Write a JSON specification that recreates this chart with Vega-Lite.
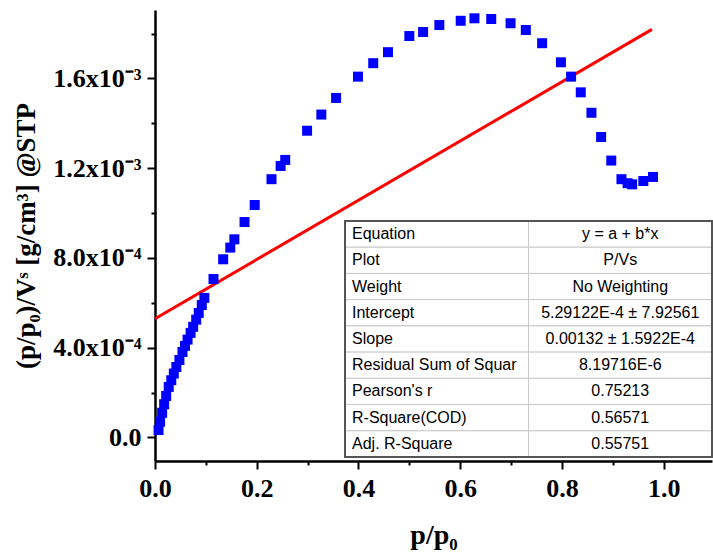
{
  "$schema": "https://vega.github.io/schema/vega-lite/v6.json",
  "width": 557,
  "height": 451,
  "autosize": "none",
  "padding": {"left": 155, "top": 10, "right": 1, "bottom": 94},
  "background": "white",
  "config": {"view": {"stroke": null}, "axis": {"grid": false}},
  "datasets": {
    "points": [
      {"x": 0.007, "y": 0.000033}, {"x": 0.010, "y": 0.000070}, {"x": 0.014, "y": 0.000110},
      {"x": 0.018, "y": 0.000148}, {"x": 0.022, "y": 0.000185}, {"x": 0.027, "y": 0.000225},
      {"x": 0.032, "y": 0.000255}, {"x": 0.037, "y": 0.000285}, {"x": 0.042, "y": 0.000314},
      {"x": 0.048, "y": 0.000345}, {"x": 0.054, "y": 0.000381}, {"x": 0.059, "y": 0.000408},
      {"x": 0.064, "y": 0.000436}, {"x": 0.070, "y": 0.000466}, {"x": 0.075, "y": 0.000493},
      {"x": 0.081, "y": 0.000525}, {"x": 0.086, "y": 0.000555}, {"x": 0.092, "y": 0.000590},
      {"x": 0.097, "y": 0.000622}, {"x": 0.115, "y": 0.000706},
      {"x": 0.134, "y": 0.000794}, {"x": 0.148, "y": 0.000846}, {"x": 0.156, "y": 0.000883},
      {"x": 0.176, "y": 0.000960}, {"x": 0.196, "y": 0.001036}, {"x": 0.229, "y": 0.001151},
      {"x": 0.247, "y": 0.001210}, {"x": 0.256, "y": 0.001237}, {"x": 0.299, "y": 0.001367},
      {"x": 0.327, "y": 0.001439}, {"x": 0.356, "y": 0.001513}, {"x": 0.399, "y": 0.001608},
      {"x": 0.429, "y": 0.001668}, {"x": 0.458, "y": 0.001717}, {"x": 0.500, "y": 0.001789},
      {"x": 0.527, "y": 0.001807}, {"x": 0.559, "y": 0.001838}, {"x": 0.601, "y": 0.001857},
      {"x": 0.628, "y": 0.001868}, {"x": 0.661, "y": 0.001865}, {"x": 0.699, "y": 0.001846},
      {"x": 0.729, "y": 0.001816}, {"x": 0.761, "y": 0.001757}, {"x": 0.798, "y": 0.001672},
      {"x": 0.818, "y": 0.001608}, {"x": 0.837, "y": 0.001538}, {"x": 0.858, "y": 0.001447},
      {"x": 0.877, "y": 0.001339}, {"x": 0.897, "y": 0.001234}, {"x": 0.917, "y": 0.001151},
      {"x": 0.929, "y": 0.001133}, {"x": 0.938, "y": 0.001128}, {"x": 0.960, "y": 0.001143},
      {"x": 0.979, "y": 0.001161}
    ],
    "fit": [
      {"x": 0.0, "y": 0.000529122},
      {"x": 0.977, "y": 0.0018188}
    ],
    "table": [
      {"name": "Equation", "val": "y = a + b*x"},
      {"name": "Plot", "val": "P/Vs"},
      {"name": "Weight", "val": "No Weighting"},
      {"name": "Intercept", "val": "5.29122E-4 ± 7.92561"},
      {"name": "Slope", "val": "0.00132 ± 1.5922E-4"},
      {"name": "Residual Sum of Squar", "val": "8.19716E-6"},
      {"name": "Pearson's r", "val": "0.75213"},
      {"name": "R-Square(COD)", "val": "0.56571"},
      {"name": "Adj. R-Square", "val": "0.55751"}
    ]
  },
  "layer": [
    {
      "layer": [
        {
          "data": {"name": "fit"},
          "mark": {"type": "line", "color": "#ff0000", "strokeWidth": 3},
          "encoding": {
            "x": {"field": "x", "type": "quantitative"},
            "y": {"field": "y", "type": "quantitative"}
          }
        },
        {
          "data": {"name": "points"},
          "mark": {"type": "square", "size": 100, "color": "#0000ff", "opacity": 1},
          "encoding": {
            "x": {
              "field": "x", "type": "quantitative",
              "scale": {"domain": [0, 1.095], "nice": false, "zero": false},
              "axis": {
                "title": "p/p₀",
                "values": [0, 0.1, 0.2, 0.3, 0.4, 0.5, 0.6, 0.7, 0.8, 0.9, 1.0],
                "labelExpr": "round(datum.value*10)%2==0 ? format(datum.value,'.1f') : ''",
                "tickSize": {"condition": {"test": "round(datum.value*10)%2!=0", "value": 4}, "value": 8},
                "tickWidth": 2, "tickColor": "black",
                "domainWidth": 2.5, "domainColor": "black",
                "labelFlush": false, "labelOverlap": false,
                "labelFont": "Liberation Serif", "labelFontWeight": "bold", "labelFontSize": 26, "labelColor": "black",
                "labelPadding": 6,
                "titleFont": "Liberation Serif", "titleFontWeight": "bold", "titleFontSize": 28, "titleColor": "black",
                "titlePadding": 20
              }
            },
            "y": {
              "field": "y", "type": "quantitative",
              "scale": {"domain": [-0.000105, 0.001905], "nice": false, "zero": false},
              "axis": {
                "title": "(p/p₀)/Vˢ [g/cm³] @STP",
                "values": [0, 0.0002, 0.0004, 0.0006, 0.0008, 0.001, 0.0012, 0.0014, 0.0016, 0.0018],
                "labelExpr": "round(datum.value*1e4)==0 ? '0.0' : round(datum.value*1e4)==4 ? '4.0x10⁻⁴' : round(datum.value*1e4)==8 ? '8.0x10⁻⁴' : round(datum.value*1e4)==12 ? '1.2x10⁻³' : round(datum.value*1e4)==16 ? '1.6x10⁻³' : ''",
                "tickSize": {"condition": {"test": "round(datum.value*1e4)%4!=0", "value": 4}, "value": 8},
                "tickWidth": 2, "tickColor": "black",
                "domainWidth": 2.5, "domainColor": "black",
                "labelFlush": false, "labelOverlap": false,
                "labelFont": "Liberation Serif", "labelFontWeight": "bold", "labelFontSize": 26, "labelColor": "black",
                "labelPadding": 6,
                "titleFont": "Liberation Serif", "titleFontWeight": "bold", "titleFontSize": 27, "titleColor": "black",
                "titlePadding": 12
              }
            }
          }
        }
      ]
    },
    {
      "data": {"name": "table"},
      "encoding": {
        "y": {
          "field": "name", "type": "nominal", "sort": null,
          "scale": {"range": [211, 447], "paddingInner": 0, "paddingOuter": 0},
          "axis": null
        }
      },
      "layer": [
        {
          "mark": {"type": "rect", "fill": "white", "stroke": "#c8c8c8", "strokeWidth": 1},
          "encoding": {
            "x": {
              "datum": "name", "type": "nominal",
              "scale": {"domain": ["name", "value"], "range": [190, 557], "paddingInner": 0, "paddingOuter": 0},
              "axis": null
            }
          }
        },
        {
          "mark": {"type": "rect", "fill": "white", "stroke": "#c8c8c8", "strokeWidth": 1},
          "encoding": {"x": {"datum": "value", "type": "nominal"}}
        },
        {
          "mark": {"type": "rect", "fill": null, "filled": false, "stroke": "#555555", "strokeWidth": 1.2},
          "encoding": {
            "x": {"datum": "name", "type": "nominal", "bandPosition": 0},
            "x2": {"datum": "value", "bandPosition": 1},
            "y": {"datum": "Equation", "type": "nominal", "bandPosition": 0},
            "y2": {"datum": "Adj. R-Square", "bandPosition": 1}
          }
        },
        {
          "mark": {"type": "text", "align": "left", "baseline": "middle", "dx": 7, "font": "Liberation Sans", "fontSize": 16, "color": "black"},
          "encoding": {
            "x": {"datum": "name", "type": "nominal", "bandPosition": 0},
            "text": {"field": "name"}
          }
        },
        {
          "mark": {"type": "text", "align": "center", "baseline": "middle", "font": "Liberation Sans", "fontSize": 16, "color": "black"},
          "encoding": {
            "x": {"datum": "value", "type": "nominal"},
            "text": {"field": "val"}
          }
        }
      ]
    }
  ],
  "resolve": {"scale": {"x": "independent", "y": "independent"}}
}
